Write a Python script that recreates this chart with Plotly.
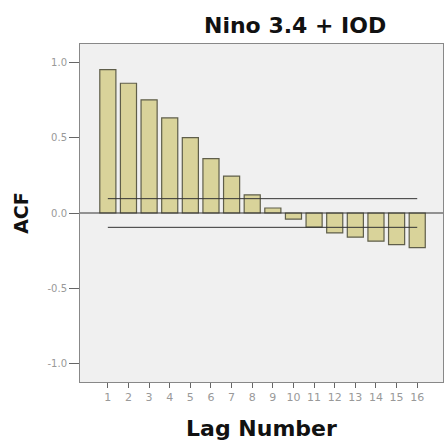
import plotly.graph_objects as go

lags = list(range(1, 17))
acf = [0.95, 0.86, 0.75, 0.63, 0.50, 0.36, 0.245, 0.12, 0.033, -0.04, -0.093, -0.132, -0.16, -0.187, -0.21, -0.23]
conf_upper = 0.095
conf_lower = -0.095
ytick_vals = [1.0, 0.5, 0.0, -0.5, -1.0]
ytick_text = ["1.0", "0.5", "0.0", "-0.5", "-1.0"]

L, R, T, B = 80, 3, 44, 63
W, H = 446, 445

fig = go.Figure()
fig.add_trace(go.Bar(
    x=lags, y=acf, width=0.78,
    marker=dict(color="#d9d39a", line=dict(color="#5f5e4a", width=1.2)),
    showlegend=False, hoverinfo="x+y",
))
fig.add_trace(go.Scatter(x=[lags[0], lags[-1]], y=[conf_upper, conf_upper], mode="lines",
                         line=dict(color="#333333", width=1), showlegend=False))
fig.add_trace(go.Scatter(x=[lags[0], lags[-1]], y=[conf_lower, conf_lower], mode="lines",
                         line=dict(color="#333333", width=1), showlegend=False))
fig.add_shape(type="line", xref="paper", yref="y", x0=0, x1=1, y0=0, y1=0,
              line=dict(color="#333333", width=1))

fig.update_layout(
    width=W, height=H,
    margin=dict(l=L, r=R, t=T, b=B),
    paper_bgcolor="white", plot_bgcolor="#f0f0f0",
    font=dict(family="DejaVu Sans, sans-serif"),
    annotations=[
        dict(text="<b>Nino 3.4 + IOD</b>",
             x=(295 - L) / (W - L - R), y=1 + (T - 26) / (H - T - B),
             xref="paper", yref="paper", xanchor="center", yanchor="middle",
             showarrow=False, font=dict(size=22, color="#111111", family="DejaVu Sans")),
    ],
    xaxis=dict(range=[-0.35, 17.25], tickvals=lags, ticks="outside", ticklen=5,
               tickcolor="#666666", tickfont=dict(size=11, color="#999999"),
               showgrid=False, zeroline=False, showline=True, linecolor="#888888",
               mirror=True,
               title=dict(text="<b>Lag Number</b>", font=dict(size=22, color="#111111"), standoff=17)),
    yaxis=dict(range=[-1.12, 1.12], tickvals=ytick_vals, ticktext=ytick_text,
               ticks="outside", ticklen=10, tickcolor="#666666",
               tickfont=dict(size=10, color="#999999"),
               showgrid=False, zeroline=False, showline=True, linecolor="#888888",
               mirror=True,
               title=dict(text="<b>ACF</b>", font=dict(size=19, color="#111111"), standoff=13)),
)
fig.write_html("out.html")
